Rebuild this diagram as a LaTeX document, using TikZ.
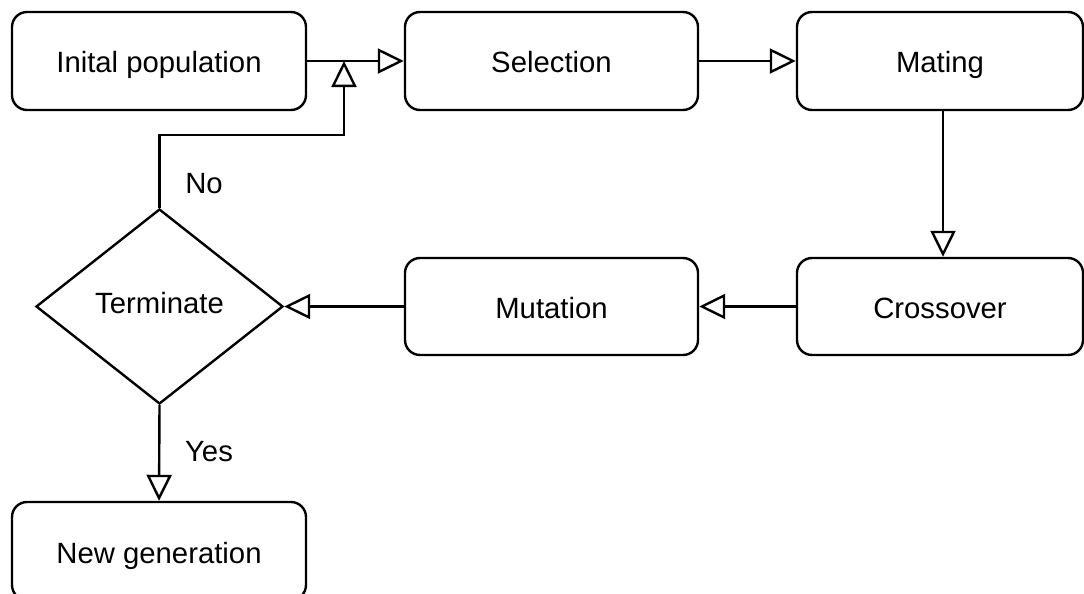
\documentclass[tikz,border=0pt]{standalone}
\usepackage{fontspec}
\setmainfont{Liberation Sans}
\usetikzlibrary{arrows.meta,shapes.geometric}
\begin{document}
\begin{tikzpicture}[x=1pt,y=-1pt,
  font=\fontsize{29.3}{35}\selectfont,
  every node/.style={line width=2.4pt},
  procbox/.style={draw, rounded corners=15pt, minimum height=98pt, inner sep=0pt,
    text height=28pt, text depth=4pt},
  decision/.style={draw, diamond, minimum width=247pt, minimum height=195pt, inner sep=0pt,
    text height=19pt, text depth=6pt},
  flow/.style={line width=2.4pt, -{Triangle[open, length=26pt, width=25pt]}},
  lbl/.style={inner sep=0pt}]
  \useasboundingbox (0,0) rectangle (1084,594);

  % process steps
  \node[procbox, minimum width=294pt] (init) at (159,61) {Inital population};
  \node[procbox, minimum width=293pt] (sel) at (551.5,61) {Selection};
  \node[procbox, minimum width=286pt] (mate) at (940,61) {Mating};
  \node[procbox, minimum width=286pt, minimum height=97pt] (cross) at (940,306.5) {Crossover};
  \node[procbox, minimum width=293pt, minimum height=97pt] (mut) at (551.5,306.5) {Mutation};
  \node[decision] (term) at (159.5,306.5) {Terminate};
  \node[procbox, minimum width=294pt] (newgen) at (159,551) {New generation};

  % loop-back junction on the top line
  \coordinate (join) at (344,61);
  \coordinate (bend) at (344,135);

  % connectors
  \draw[flow] (init.east) -- (sel.west);
  \draw[flow] (sel.east) -- (mate.west);
  \draw[flow] (mate.south -| 943,0) -- (cross.north -| 943,0);
  \draw[flow] (cross.west) -- (mut.east);
  \draw[flow] (mut.west) -- (term.east);
  \draw[flow] (term.south) -- (newgen.north);
  \draw[flow] (term.north) |- (bend) -- (join);

  % branch labels
  \node[lbl] (no) at (204,184) {No};
  \node[lbl] (yes) at (209,452) {Yes};
\end{tikzpicture}
\end{document}
